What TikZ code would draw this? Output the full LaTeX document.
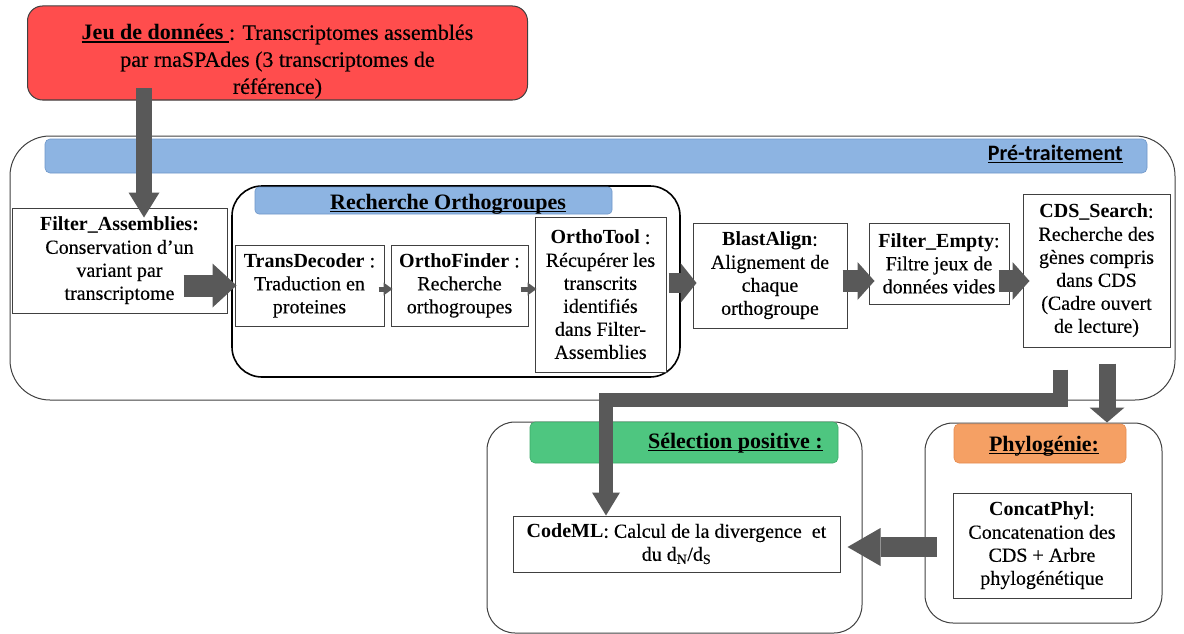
\documentclass[tikz,border=0pt]{standalone}
\usepackage{fontspec}
\setmainfont{Liberation Serif}[UprightFeatures={FakeBold=0.3}]
\newfontfamily\calfont{Carlito}
\newcommand{\myul}[1]{\setbox0\hbox{#1}\rlap{\rule[-3pt]{\wd0}{1.4pt}}\box0}
\usetikzlibrary{arrows.meta}
\definecolor{redfill}{RGB}{255,77,77}
\definecolor{bluebar}{RGB}{141,180,226}
\definecolor{blueedge}{RGB}{110,150,200}
\definecolor{greenbar}{RGB}{78,198,128}
\definecolor{greenedge}{RGB}{60,170,105}
\definecolor{orangebar}{RGB}{245,160,100}
\definecolor{orangeedge}{RGB}{230,140,80}
\definecolor{arrowgray}{RGB}{89,89,89}
\definecolor{edgegray}{RGB}{64,64,64}
\begin{document}
\begin{tikzpicture}[x=1pt,y=-1pt,
  container/.style={draw=edgegray, line width=1pt, inner sep=0pt},
  bar/.style={inner sep=0pt, rounded corners=5pt},
  stepbox/.style={draw=edgegray, line width=1pt, fill=white, align=center, inner sep=0pt,
     font=\fontsize{20}{23}\selectfont},
  headtxt/.style={inner sep=0pt, font=\bfseries\fontsize{22}{26}\selectfont},
  blockarrow/.style n args={4}{draw=arrowgray, line width=#1, line join=miter,
     -{Triangle[length=#3, width=#2, line width=0pt]}},
]
\useasboundingbox (0,0) rectangle (1184,634);

% data set box
\node[draw=edgegray, line width=1pt, fill=redfill, rounded corners=15pt, inner sep=0pt,
      minimum width=500pt, minimum height=94pt] (data) at (277.5,53) {};
\node[align=center, inner sep=0pt, font=\fontsize{22}{27}\selectfont] (datatxt) at (277.5,61.5)
  {\textbf{\myul{Jeu de données\ }}: Transcriptomes assemblés\\par rnaSPAdes (3 transcriptomes de\\référence)};

% Pre-traitement container
\node[container, rounded corners=40pt, minimum width=1165pt, minimum height=264pt] (pre) at (592.5,268) {};
\node[bar, fill=bluebar, draw=blueedge, line width=0.6pt, minimum width=1102pt, minimum height=34pt] (prebar) at (596,156) {};
\node[anchor=base east, inner sep=0pt, font=\calfont\bfseries\fontsize{22}{26}\selectfont] (pretxt) at (1123,160) {\myul{Pré-traitement}};

% Recherche Orthogroupes container
\node[draw=black, line width=1.6pt, rounded corners=30pt, inner sep=0pt, fill=white,
      minimum width=448pt, minimum height=191pt] (ro) at (456,281.5) {};
\node[bar, rounded corners=4pt, fill=bluebar, draw=blueedge, line width=0.6pt, minimum width=357pt, minimum height=27pt] (robar) at (433.5,200.5) {};
\node[headtxt, anchor=base] (rotxt) at (448,209) {\myul{Recherche Orthogroupes}};

% Selection positive container
\node[container, rounded corners=28pt, minimum width=375pt, minimum height=211pt] (sel) at (674.5,527.5) {};
\node[bar, fill=greenbar, draw=greenedge, line width=0.6pt, minimum width=308pt, minimum height=41pt] (selbar) at (684,442.5) {};
\node[headtxt, anchor=base east] (seltxt) at (823,448) {\myul{Sélection positive :}};

% Phylogenie container
\node[container, rounded corners=28pt, minimum width=237pt, minimum height=200pt] (phy) at (1043.5,523) {};
\node[bar, fill=orangebar, draw=orangeedge, line width=0.6pt, minimum width=172pt, minimum height=39pt] (phybar) at (1040,443.5) {};
\node[headtxt, anchor=base] (phytxt) at (1044,451) {\myul{Phylogénie:}};

% step boxes
\node[stepbox, minimum width=215pt, minimum height=105pt] (fa) at (119.5,260.5)
  {\textbf{Filter\_Assemblies:}\\Conservation d’un\\variant par\\transcriptome};
\node[stepbox, minimum width=149pt, minimum height=81pt] (td) at (309.5,285.5)
  {\textbf{TransDecoder} :\\Traduction en\\proteines};
\node[stepbox, minimum width=137pt, minimum height=81pt] (of) at (459.5,285.5)
  {\textbf{OrthoFinder} :\\Recherche\\orthogroupes};
\node[stepbox, minimum width=131pt, minimum height=155pt] (ot) at (600.5,294.5)
  {\textbf{OrthoTool} :\\Récupérer les\\transcrits\\identifiés\\dans Filter-\\Assemblies};
\node[stepbox, minimum width=154pt, minimum height=105pt] (ba) at (770,275.5)
  {\textbf{BlastAlign}:\\Alignement de\\chaque\\orthogroupe};
\node[stepbox, minimum width=140pt, minimum height=81pt] (fe) at (939,263.5)
  {\textbf{Filter\_Empty}:\\Filtre jeux de\\données vides};
\node[stepbox, minimum width=147pt, minimum height=153pt] (cds) at (1096.5,270.5)
  {\textbf{CDS\_Search}:\\Recherche des\\gènes compris\\dans CDS\\(Cadre ouvert\\de lecture)};
\node[stepbox, minimum width=327pt, minimum height=56pt] (cm) at (676.5,544)
  {\textbf{CodeML}: Calcul de la divergence\ \ et\\du d\textsubscript{N}/d\textsubscript{S}};
\node[stepbox, minimum width=178pt, minimum height=105pt] (cp) at (1042,545.5)
  {\textbf{ConcatPhyl}:\\Concatenation des\\CDS + Arbre\\phylogénétique};

% arrows
\draw[blockarrow={16pt}{31pt}{25pt}{}] ([xshift=-133.5pt,yshift=12pt]data.south) -- ([xshift=24.5pt,yshift=-10pt]fa.north);
\draw[blockarrow={22pt}{44pt}{24pt}{}] ([xshift=-44pt,yshift=-25pt]fa.east) -- ([xshift=2pt]td.west);
\draw[blockarrow={5pt}{13pt}{9pt}{}] ([xshift=-6pt,yshift=-3.5pt]td.east) -- ([xshift=2pt,yshift=-3.5pt]of.west);
\draw[blockarrow={5pt}{13pt}{9pt}{}] ([xshift=-8pt,yshift=-3.5pt]of.east) -- ([xshift=2pt,yshift=5.5pt]ot.west);
\draw[blockarrow={20pt}{40pt}{16pt}{}] ([xshift=2pt,yshift=11.5pt]ot.east) -- ([xshift=4pt,yshift=-7.5pt]ba.west);
\draw[blockarrow={22pt}{38pt}{17pt}{}] ([xshift=-5pt,yshift=-5.5pt]ba.east) -- ([xshift=6pt,yshift=-17.5pt]fe.west);
\draw[blockarrow={22pt}{38pt}{17pt}{}] ([xshift=-11pt,yshift=-17.5pt]fe.east) -- ([xshift=7pt,yshift=-10.5pt]cds.west);
\coordinate (k1) at (1060.5,400);
\coordinate (k2) at (606,400);
\draw[blockarrow={14.5pt}{28pt}{23pt}{}] ([xshift=-36pt,yshift=-22pt]cds.south) -- (k1) -- (k2) -- ([xshift=-70.5pt]cm.north);
\draw[blockarrow={17pt}{35pt}{15pt}{}] ([xshift=10.5pt,yshift=-16pt]cds.south) -- ([xshift=63.5pt]phy.north);
\draw[blockarrow={20pt}{38pt}{33pt}{}] ([xshift=-16pt,yshift=-1.5pt]cp.west) -- ([xshift=7pt,yshift=-3pt]cm.east);
\end{tikzpicture}
\end{document}
